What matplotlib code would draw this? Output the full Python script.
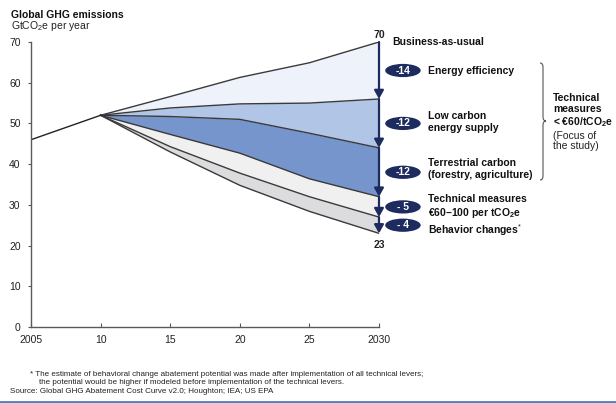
import matplotlib
matplotlib.use("Agg")
import matplotlib.pyplot as plt
from matplotlib.patches import Ellipse, PathPatch
from matplotlib.path import Path
from matplotlib.transforms import Affine2D
from matplotlib.lines import Line2D

plt.rcParams['font.family'] = ['Liberation Sans', 'DejaVu Sans']
plt.rcParams['mathtext.fontset'] = 'custom'
plt.rcParams['mathtext.rm'] = 'Liberation Sans'
plt.rcParams['mathtext.bf'] = 'Liberation Sans:bold'
plt.rcParams['mathtext.it'] = 'Liberation Sans:italic'

# Data (GtCO2e per year)
hist_years = [2005, 2010]
hist_values = [46, 52]

years = [2010, 2015, 2020, 2025, 2030]
bau = [52, 56.6, 61.3, 64.9, 70]
after_efficiency = [52, 53.8, 54.8, 55.0, 56]
after_low_carbon = [52, 51.7, 51.0, 47.6, 44]
after_terrestrial = [52, 47.3, 42.7, 36.4, 32]
after_tech_60_100 = [52, 44.3, 37.8, 32.0, 27]
after_behavior = [52, 43.0, 34.8, 28.4, 23]

lever_labels = ['Energy efficiency',
                'Low carbon\nenergy supply',
                'Terrestrial carbon\n(forestry, agriculture)',
                'Technical measures\n€60–100 per tCO$_\\mathbf{2}$e',
                'Behavior changes$^{*}$']

x_ticks = [2005, 2010, 2015, 2020, 2025, 2030]
x_tick_labels = ['2005', '10', '15', '20', '25', '2030']
y_ticks = [0, 10, 20, 30, 40, 50, 60, 70]

levels = [bau, after_efficiency, after_low_carbon, after_terrestrial,
          after_tech_60_100, after_behavior]
band_colors = ['#eef2fa', '#b1c6e6', '#7695cd', '#f0f0f0', '#dcdcdf']
navy = '#1d2b5e'
edge = '#3a3a3a'
fs = 7.5

fig = plt.figure(figsize=(6.16, 4.03), dpi=100)
ax = fig.add_axes([31 / 616, 1 - 327 / 403, 348 / 616, 285 / 403])

# pixel transform, origin at top-left of the figure
px = Affine2D().scale(1 / 100, -1 / 100).translate(0, 4.03) + fig.dpi_scale_trans

# bands
for i in range(5):
    ax.fill_between(years, levels[i], levels[i + 1], color=band_colors[i], lw=0)
for lv in levels:
    ax.plot(years, lv, color=edge, lw=1, solid_joinstyle='round')
ax.plot(hist_years, hist_values, color='#222222', lw=1)

ax.set_xlim(2005, 2030)
ax.set_ylim(0, 70)
ax.set_xticks(x_ticks)
ax.set_xticklabels(x_tick_labels)
ax.set_yticks(y_ticks)
for s in ['top', 'right']:
    ax.spines[s].set_visible(False)
for s in ['left', 'bottom']:
    ax.spines[s].set_color('#5a5a5a')
    ax.spines[s].set_linewidth(1)
ax.tick_params(axis='y', direction='out', length=2.5, pad=5, labelsize=fs,
               color='#5a5a5a', labelcolor='#222222')
ax.tick_params(axis='x', direction='in', length=3, pad=6, labelsize=fs,
               color='#5a5a5a', labelcolor='#222222')

# arrows down the 2030 column
end = years[-1]
for i in range(5):
    ax.annotate('', xy=(end, levels[i + 1][-1]), xytext=(end, levels[i][-1]),
                arrowprops=dict(arrowstyle='-|>,head_length=0.5,head_width=0.28',
                                color=navy, lw=1.6, shrinkA=0, shrinkB=0,
                                mutation_scale=10),
                annotation_clip=False)

ax.annotate(f'{bau[-1]:g}', xy=(end, bau[-1]), xytext=(0, 5),
            textcoords='offset points', ha='center', va='center',
            fontsize=fs, fontweight='bold', color='#222222', annotation_clip=False)
ax.annotate(f'{after_behavior[-1]:g}', xy=(end, after_behavior[-1]), xytext=(0, -8.5),
            textcoords='offset points', ha='center', va='center',
            fontsize=fs, fontweight='bold', color='#222222', annotation_clip=False)
ax.annotate('Business-as-usual', xy=(end, bau[-1]), xytext=(9.5, 0),
            textcoords='offset points', ha='left', va='center',
            fontsize=fs, fontweight='bold', color='#111111', annotation_clip=False)

# badges and lever labels
badge_x = 2031.72
label_offsets = [0, 1.2, 2.2, 0, -3.6]
for i in range(5):
    top, bot = levels[i][-1], levels[i + 1][-1]
    mid = (top + bot) / 2
    d = top - bot
    txt = f'-{d:g}' if d >= 10 else f'- {d:g}'
    ax.add_patch(Ellipse((badge_x, mid), 2.55, 3.25, facecolor=navy,
                         edgecolor='none', clip_on=False))
    ax.text(badge_x, mid, txt, ha='center', va='center', color='white',
            fontsize=fs, fontweight='bold', clip_on=False)
    ax.annotate(lever_labels[i], xy=(badge_x, mid), xytext=(18, label_offsets[i]),
                textcoords='offset points', ha='left', va='center',
                fontsize=fs, fontweight='bold', color='#111111',
                linespacing=1.22, annotation_clip=False)

# curly brace
x0, w = 540, 6
yt, ym, yb = 63, 121, 180
verts = [(x0, yt), (x0 + w / 2, yt), (x0 + w / 2, yt + 4),
         (x0 + w / 2, ym - 4),
         (x0 + w / 2, ym), (x0 + w, ym),
         (x0 + w / 2, ym), (x0 + w / 2, ym + 4),
         (x0 + w / 2, yb - 4),
         (x0 + w / 2, yb), (x0, yb)]
codes = [Path.MOVETO, Path.CURVE3, Path.CURVE3, Path.LINETO,
         Path.CURVE3, Path.CURVE3, Path.CURVE3, Path.CURVE3,
         Path.LINETO, Path.CURVE3, Path.CURVE3]
fig.add_artist(PathPatch(Path(verts, codes), transform=px, fill=False,
                         edgecolor='#555555', lw=0.8))

fig.text(553, 111, 'Technical\nmeasures\n< €60/tCO$_\\mathbf{2}$e', transform=px,
         ha='left', va='center', fontsize=fs, fontweight='bold', color='#111111',
         linespacing=1.1)
fig.text(553, 141, '(Focus of\nthe study)', transform=px,
         ha='left', va='center', fontsize=fs, color='#222222', linespacing=1.1)

# titles
fig.text(11, 15, 'Global GHG emissions', transform=px, ha='left', va='center',
         fontsize=fs, fontweight='bold', color='#111111')
fig.text(11, 26, 'GtCO$_2$e per year', transform=px, ha='left', va='center',
         fontsize=fs, color='#222222')

# footnotes
fn = 5.75
fig.text(30, 374.5, '* The estimate of behavioral change abatement potential was made '
         'after implementation of all technical levers;', transform=px,
         ha='left', va='center', fontsize=fn, color='#222222')
fig.text(39, 383, 'the potential would be higher if modeled before implementation '
         'of the technical levers.', transform=px,
         ha='left', va='center', fontsize=fn, color='#222222')
fig.text(10, 391.5, 'Source: Global GHG Abatement Cost Curve v2.0; Houghton; IEA; US EPA',
         transform=px, ha='left', va='center', fontsize=fn, color='#222222')

fig.add_artist(Line2D([0, 616], [401.5, 401.5], transform=px, color='#4f7fc0', lw=2))

fig.savefig('out.png', dpi=100)
